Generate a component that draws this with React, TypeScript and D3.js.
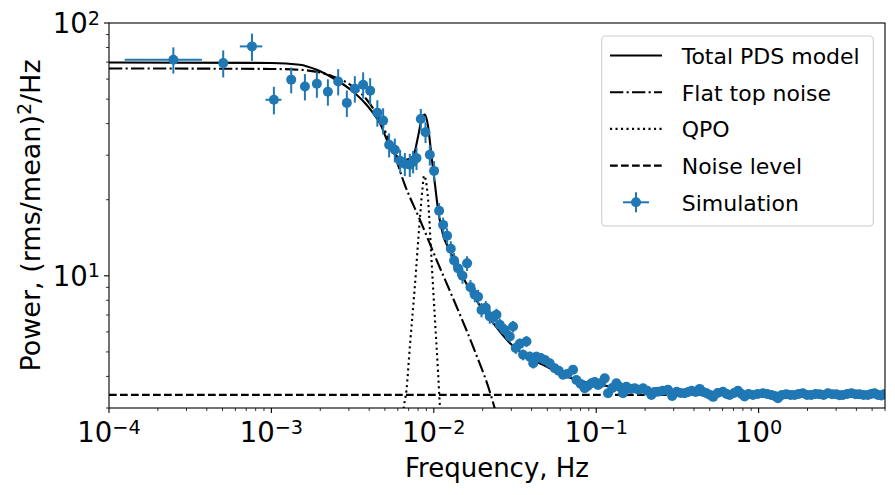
import React, { useEffect, useRef } from "react";
import * as d3 from "d3";

// simulated PDS
const freq = [
  2.49e-4, 5.05e-4, 7.59e-4, 1.036e-3, 1.324e-3, 1.608e-3, 1.905e-3, 2.227e-3, 2.577e-3, 2.914e-3,
  3.264e-3, 3.672e-3, 4.055e-3, 4.491e-3, 4.875e-3, 5.307e-3, 5.754e-3, 6.203e-3, 6.632e-3, 7.116e-3,
  7.457e-3, 7.824e-3, 8.318e-3, 8.89e-3, 9.449e-3, 1.004e-2, 1.078e-2, 1.141e-2, 1.207e-2, 1.272e-2,
  1.333e-2, 1.411e-2, 1.502e-2, 1.603e-2, 1.682e-2, 1.788e-2, 1.873e-2, 1.966e-2, 2.089e-2, 2.211e-2,
  2.317e-2, 2.431e-2, 2.548e-2, 2.734e-2, 2.936e-2, 3.076e-2, 3.196e-2, 3.383e-2, 3.545e-2, 3.72e-2,
  3.898e-2, 4.095e-2, 4.285e-2, 4.555e-2, 4.82e-2, 5.173e-2, 5.554e-2, 5.877e-2, 6.246e-2, 6.677e-2,
  7.198e-2, 7.553e-2, 8.026e-2, 8.494e-2, 8.865e-2, 9.344e-2, 9.79e-2, 0.1026, 0.1074, 0.1128,
  0.1182, 0.1255, 0.1331, 0.1395, 0.1462, 0.1534, 0.1631, 0.1726, 0.1826, 0.1941,
  0.206, 0.2186, 0.2291, 0.2401, 0.2566, 0.2765, 0.2935, 0.3128, 0.3311, 0.3504,
  0.3683, 0.387, 0.4095, 0.4334, 0.4555, 0.4786, 0.5029, 0.5248, 0.5593, 0.6031,
  0.6355, 0.663, 0.7065, 0.7454, 0.7857, 0.8197, 0.868, 0.9224, 0.9858, 1.063,
  1.128, 1.197, 1.254, 1.315, 1.395, 1.481, 1.574, 1.665, 1.763, 1.873,
  1.988, 2.11, 2.243, 2.374, 2.512, 2.67, 2.834, 3.008, 3.151, 3.302,
  3.505, 3.72, 3.953, 4.183, 4.428, 4.705, 4.924, 5.173, 5.437, 5.69, 5.92,
];
const power = [
  71.6, 69.4, 80.8, 49.7, 59.7, 56.1, 57.5, 53.5, 58.7, 48.3,
  55.0, 57.0, 54.0, 44.2, 41.1, 33.0, 31.5, 28.5, 27.7, 27.5,
  28.3, 29.2, 41.7, 37.0, 30.1, 26.0, 18.1, 15.9, 14.4, 12.8,
  11.5, 10.7, 10.0, 11.2, 9.02, 8.41, 8.26, 7.33, 7.47, 6.9,
  6.82, 7.01, 6.4, 6.11, 5.75, 6.3, 5.18, 5.38, 4.87, 5.5,
  4.79, 4.51, 4.79, 4.73, 4.65, 4.51, 4.31, 4.21, 4.06, 4.1,
  4.25, 3.87, 3.73, 3.59, 3.67, 3.76, 3.8, 3.7, 3.77, 3.93,
  3.43, 3.6, 3.76, 3.63, 3.43, 3.64, 3.57, 3.59, 3.54, 3.59,
  3.51, 3.38, 3.47, 3.48, 3.51, 3.54, 3.35, 3.48, 3.44, 3.43,
  3.47, 3.51, 3.47, 3.57, 3.47, 3.43, 3.38, 3.32, 3.44, 3.48,
  3.41, 3.38, 3.44, 3.51, 3.41, 3.33, 3.41, 3.38, 3.41, 3.43,
  3.41, 3.38, 3.35, 3.28, 3.38, 3.4, 3.38, 3.38, 3.41, 3.43,
  3.38, 3.38, 3.41, 3.4, 3.38, 3.43, 3.4, 3.4, 3.37, 3.38,
  3.41, 3.43, 3.4, 3.4, 3.38, 3.38, 3.41, 3.43, 3.38, 3.36, 3.4,
];
const powerErr = [
  8.5, 8.5, 10, 6.2, 7.0, 6.7, 6.9, 6.4, 7.0, 5.8,
  6.6, 6.8, 6.5, 5.3, 4.9, 3.6, 3.4, 3.0, 2.9, 2.9,
  2.9, 3.0, 4.0, 3.5, 2.8, 2.4, 1.3, 1.1, 1.0, 0.9,
  0.8, 0.75, 0.7, 0.75, 0.6, 0.55, 0.55, 0.48, 0.48, 0.44,
  0.4, 0.4, 0.36, 0.34, 0.3, 0.33, 0.27, 0.27, 0.24, 0.27,
  0.23, 0.21, 0.22, 0.21, 0.2, 0.19, 0.18, 0.17, 0.16, 0.16,
  0.16, 0.15, 0.14, 0.14, 0.14, 0.14, 0.13, 0.13, 0.13, 0.13,
  0.12, 0.12, 0.12, 0.12, 0.12, 0.12, 0.12, 0.12, 0.12, 0.12,
  0.11, 0.11, 0.11, 0.11, 0.11, 0.11, 0.11, 0.11, 0.11, 0.11,
  0.1, 0.1, 0.1, 0.1, 0.1, 0.1, 0.1, 0.1, 0.1, 0.1,
  0.1, 0.1, 0.1, 0.1, 0.1, 0.1, 0.1, 0.1, 0.1, 0.1,
  0.1, 0.1, 0.1, 0.1, 0.1, 0.1, 0.1, 0.1, 0.1, 0.1,
  0.1, 0.1, 0.1, 0.1, 0.1, 0.1, 0.1, 0.1, 0.1, 0.1,
  0.1, 0.1, 0.1, 0.1, 0.1, 0.1, 0.1, 0.1, 0.1, 0.1, 0.1,
];
// horizontal error bars are only visible on a few low-frequency points
const freqErr = [1.24e-4, 0, 1.2e-4, 1.17e-4];

// model curves
const totalF = [
  1e-4, 1e-3, 1.497e-3, 1.9e-3, 2.39e-3, 3.175e-3, 3.85e-3, 4.65e-3, 5.62e-3, 6.79e-3,
  7.46e-3, 8.0e-3, 8.4e-3, 8.8e-3, 9.22e-3, 9.68e-3, 1.014e-2, 1.063e-2, 1.14e-2, 1.254e-2,
  1.445e-2, 1.83e-2, 2.32e-2, 2.936e-2, 3.72e-2, 4.94e-2, 6.56e-2, 0.105, 0.2134, 0.4334, 1.0, 6.0,
];
const totalP = [
  69.8, 69.5, 68.4, 65.3, 60.6, 53.6, 47.5, 40.2, 30.7, 28.8,
  29.7, 35.6, 41.4, 43.4, 39.0, 29.7, 23.3, 18.2, 14.5, 12.6,
  10.4, 8.0, 6.5, 5.42, 4.79, 4.38, 4.0, 3.71, 3.51, 3.43, 3.4, 3.38,
];
const flatF = [
  1e-4, 1e-3, 1.497e-3, 2.39e-3, 3.175e-3, 3.87e-3, 4.65e-3, 5.59e-3, 6.63e-3, 8.2e-3,
  1.039e-2, 1.38e-2, 1.745e-2, 2.26e-2, 2.37e-2, 2.5e-2,
];
const flatP = [66.1, 65.8, 65.3, 61.5, 56.1, 49.7, 41.4, 31.5, 22.9, 16.7, 11.57, 7.56, 5.25, 3.33, 3.0, 2.75];
const qpoF = [
  6.4e-3, 6.54e-3, 6.79e-3, 7.12e-3, 7.64e-3, 8.2e-3, 8.5e-3, 8.71e-3, 9.22e-3, 9.68e-3,
  1.014e-2, 1.063e-2, 1.089e-2, 1.11e-2,
];
const qpoP = [2.7, 3.04, 3.54, 5.25, 9.07, 16.7, 21.9, 24.9, 20.0, 11.57, 6.9, 4.12, 3.09, 2.7];
const noiseLevel = 3.38;

const xMajor = [1e-4, 1e-3, 1e-2, 1e-1, 1e0];
const yMajor = [10, 100];

const legendItems = ["Total PDS model", "Flat top noise", "QPO", "Noise level", "Simulation"];

const App = () => {
  const svgRef = useRef<SVGSVGElement | null>(null);

  useEffect(() => {
    document.body.style.margin = "0";
    const w = 895;
    const h = 495;
    const left = 109, right = 885, top = 23, bottom = 408;

    const svg = d3
      .select(svgRef.current)
      .attr("width", w)
      .attr("height", h)
      .style("font-family", "'DejaVu Sans', sans-serif")
      .style("background", "#fff");
    svg.selectAll("*").remove();

    const x = d3.scaleLog().domain([1e-4, 6]).range([left, right]);
    const y = d3.scaleLog().domain([3, 100]).range([bottom, top]);

    svg
      .append("clipPath")
      .attr("id", "plot-clip")
      .append("rect")
      .attr("x", left)
      .attr("y", top)
      .attr("width", right - left)
      .attr("height", bottom - top);

    const plot = svg.append("g").attr("clip-path", "url(#plot-clip)");

    const line = d3
      .line<[number, number]>()
      .x((d) => x(d[0]))
      .y((d) => y(d[1]))
      .curve(d3.curveMonotoneX);

    const lw = 2.1;
    plot
      .append("path")
      .attr("d", line(totalF.map((f, i) => [f, totalP[i]] as [number, number])))
      .attr("fill", "none")
      .attr("stroke", "black")
      .attr("stroke-width", lw);
    plot
      .append("path")
      .attr("d", line(flatF.map((f, i) => [f, flatP[i]] as [number, number])))
      .attr("fill", "none")
      .attr("stroke", "black")
      .attr("stroke-width", lw)
      .attr("stroke-dasharray", "13.3,3.3,2.1,3.3");
    plot
      .append("path")
      .attr("d", line(qpoF.map((f, i) => [f, qpoP[i]] as [number, number])))
      .attr("fill", "none")
      .attr("stroke", "black")
      .attr("stroke-width", lw)
      .attr("stroke-dasharray", "2.1,3.4");
    plot
      .append("line")
      .attr("x1", left)
      .attr("x2", right)
      .attr("y1", y(noiseLevel))
      .attr("y2", y(noiseLevel))
      .attr("stroke", "black")
      .attr("stroke-width", lw)
      .attr("stroke-dasharray", "7.7,3.3");

    // simulation: error bars then markers
    const blue = "#1f77b4";
    const pts = plot.append("g");
    freq.forEach((f, i) => {
      const p = power[i];
      const e = powerErr[i];
      pts
        .append("line")
        .attr("x1", x(f))
        .attr("x2", x(f))
        .attr("y1", y(Math.max(p - e, 1)))
        .attr("y2", y(p + e))
        .attr("stroke", blue)
        .attr("stroke-width", 2);
      const xe = freqErr[i] || 0;
      if (xe > 0) {
        pts
          .append("line")
          .attr("x1", x(f - xe))
          .attr("x2", x(f + xe))
          .attr("y1", y(p))
          .attr("y2", y(p))
          .attr("stroke", blue)
          .attr("stroke-width", 2);
      }
    });
    pts
      .selectAll("circle")
      .data(freq)
      .join("circle")
      .attr("cx", (f) => x(f))
      .attr("cy", (_, i) => y(power[i]))
      .attr("r", 5)
      .attr("fill", blue);

    // ticks
    const xMinor: number[] = [];
    for (let e = -4; e <= 0; e++) {
      for (let k = 2; k <= 9; k++) {
        const v = k * Math.pow(10, e);
        if (v <= 6) xMinor.push(v);
      }
    }
    const yMinor = [3, 4, 5, 6, 7, 8, 9, 20, 30, 40, 50, 60, 70, 80, 90];

    const axes = svg.append("g").attr("stroke", "black");
    xMajor.forEach((v) => {
      axes.append("line").attr("x1", x(v)).attr("x2", x(v)).attr("y1", bottom).attr("y2", bottom + 5).attr("stroke-width", 1.1);
    });
    xMinor.forEach((v) => {
      axes.append("line").attr("x1", x(v)).attr("x2", x(v)).attr("y1", bottom).attr("y2", bottom + 3).attr("stroke-width", 0.8);
    });
    yMajor.forEach((v) => {
      axes.append("line").attr("x1", left - 5).attr("x2", left).attr("y1", y(v)).attr("y2", y(v)).attr("stroke-width", 1.1);
    });
    yMinor.forEach((v) => {
      axes.append("line").attr("x1", left - 3).attr("x2", left).attr("y1", y(v)).attr("y2", y(v)).attr("stroke-width", 0.8);
    });

    svg
      .append("rect")
      .attr("x", left)
      .attr("y", top)
      .attr("width", right - left)
      .attr("height", bottom - top)
      .attr("fill", "none")
      .attr("stroke", "black")
      .attr("stroke-width", 1.1);

    const tickSize = 27.5;
    const expLabel = (v: number) => {
      const e = Math.round(Math.log10(v));
      return e < 0 ? "\u2212" + Math.abs(e) : String(e);
    };
    xMajor.forEach((v) => {
      const t = svg
        .append("text")
        .attr("x", x(v))
        .attr("y", 442)
        .attr("text-anchor", "middle")
        .attr("font-size", tickSize);
      t.append("tspan").text("10");
      t.append("tspan").attr("dy", -8.5).attr("font-size", tickSize * 0.7).text(expLabel(v));
    });
    yMajor.forEach((v) => {
      const t = svg
        .append("text")
        .attr("x", 100)
        .attr("y", y(v) + 10)
        .attr("text-anchor", "end")
        .attr("font-size", tickSize);
      t.append("tspan").text("10");
      t.append("tspan").attr("dy", -8.5).attr("font-size", tickSize * 0.7).text(expLabel(v));
    });

    svg
      .append("text")
      .attr("x", (left + right) / 2)
      .attr("y", 477)
      .attr("text-anchor", "middle")
      .attr("font-size", 26)
      .text("Frequency, Hz");

    const yl = svg
      .append("text")
      .attr("transform", `translate(39.5,${(top + bottom) / 2}) rotate(-90)`)
      .attr("text-anchor", "middle")
      .attr("font-size", 27);
    yl.append("tspan").text("Power, (rms/mean)");
    yl.append("tspan").attr("dy", -9).attr("font-size", 19).text("2");
    yl.append("tspan").attr("dy", 9).text("/Hz");

    // legend
    const lg = svg.append("g");
    lg.append("rect")
      .attr("x", 601.7)
      .attr("y", 36)
      .attr("width", 271.6)
      .attr("height", 190)
      .attr("rx", 4)
      .attr("fill", "white")
      .attr("fill-opacity", 0.8)
      .attr("stroke", "#cccccc")
      .attr("stroke-width", 1.1);
    const dashes = [null, "13.3,3.3,2.1,3.3", "2.1,3.4", "7.7,3.3"];
    legendItems.forEach((label, i) => {
      const cy = 55.5 + i * 36.7;
      if (i < 4) {
        const l = lg
          .append("line")
          .attr("x1", 610)
          .attr("x2", 662)
          .attr("y1", cy)
          .attr("y2", cy)
          .attr("stroke", "black")
          .attr("stroke-width", lw);
        if (dashes[i]) l.attr("stroke-dasharray", dashes[i] as string);
      } else {
        lg.append("line").attr("x1", 623).attr("x2", 649).attr("y1", cy).attr("y2", cy).attr("stroke", blue).attr("stroke-width", 2);
        lg.append("line").attr("x1", 636).attr("x2", 636).attr("y1", cy - 10).attr("y2", cy + 10).attr("stroke", blue).attr("stroke-width", 2);
        lg.append("circle").attr("cx", 636).attr("cy", cy).attr("r", 5).attr("fill", blue);
      }
      lg.append("text")
        .attr("x", 681.7)
        .attr("y", cy + 8.3)
        .attr("font-size", 22)
        .text(label);
    });
  }, []);

  return (
    <div>
      <svg ref={svgRef}></svg>
    </div>
  );
};

export default App;
